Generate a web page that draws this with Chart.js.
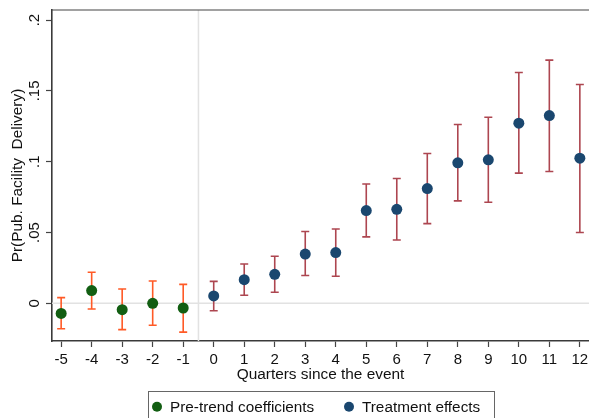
<!DOCTYPE html>
<html><head><meta charset="utf-8">
<script src="https://cdn.jsdelivr.net/npm/chart.js@4"></script>
<style>html,body{margin:0;padding:0;background:#fff}#wrap{width:589px;height:418px;position:relative}</style>
</head><body><div id="wrap"><canvas id="c"></canvas></div>
<script>
const preQuarters = [-5, -4, -3, -2, -1];
const preCoef = [-0.0071, 0.0090, -0.0045, 0.0000, -0.0033];
const preLow  = [-0.0179, -0.0040, -0.0186, -0.0155, -0.0203];
const preHigh = [0.0040, 0.0219, 0.0101, 0.0158, 0.0134];

const postQuarters = [0, 1, 2, 3, 4, 5, 6, 7, 8, 9, 10, 11, 12];
const postCoef = [0.0052, 0.0167, 0.0205, 0.0348, 0.0358, 0.0655, 0.0664, 0.0810, 0.0992, 0.1013, 0.1272, 0.1326, 0.1025];
const postLow  = [-0.0052, 0.0057, 0.0078, 0.0196, 0.0191, 0.0469, 0.0447, 0.0563, 0.0723, 0.0714, 0.0919, 0.0931, 0.0500];
const postHigh = [0.0155, 0.0278, 0.0332, 0.0507, 0.0525, 0.0843, 0.0881, 0.1058, 0.1263, 0.1314, 0.1630, 0.1717, 0.1545];

const xTicks = [-5, -4, -3, -2, -1, 0, 1, 2, 3, 4, 5, 6, 7, 8, 9, 10, 11, 12];
const yTicks = [0, 0.05, 0.1, 0.15, 0.2];
const yTickLabels = ['0', '.05', '.1', '.15', '.2'];
const seriesNames = ['Pre-trend coefficients', 'Treatment effects'];
const xTitle = 'Quarters since the event';
const yTitle = 'Pr(Pub. Facility  Delivery)';
const eventLine = -0.5;

const FONT = '"Liberation Sans", Arial, Helvetica, sans-serif';
const colGreen = '#125e12', colNavy = '#1a476f', colOrange = '#ff5a26', colMaroon = '#ad4650';

const errorBars = {
  id: 'errorBars',
  beforeDatasetsDraw(chart) {
    const {ctx, chartArea: a, scales: {x, y}} = chart;
    ctx.save();
    ctx.strokeStyle = '#e2e2e2';
    ctx.lineWidth = 1.5;
    ctx.beginPath();
    const y0 = y.getPixelForValue(0);
    ctx.moveTo(a.left, y0); ctx.lineTo(a.right, y0);
    const xe = x.getPixelForValue(eventLine);
    ctx.moveTo(xe, a.top); ctx.lineTo(xe, a.bottom);
    ctx.stroke();
    ctx.strokeStyle = '#444';
    ctx.lineWidth = 1.2;
    ctx.beginPath(); ctx.moveTo(a.left, a.top); ctx.lineTo(a.right, a.top); ctx.stroke();
    chart.data.datasets.forEach(ds => {
      ctx.strokeStyle = ds.errColor;
      ctx.lineWidth = 1.6;
      ds.data.forEach((p, i) => {
        const px = x.getPixelForValue(p.x);
        const lo = y.getPixelForValue(ds.errLow[i]);
        const hi = y.getPixelForValue(ds.errHigh[i]);
        ctx.beginPath();
        ctx.moveTo(px, lo); ctx.lineTo(px, hi);
        ctx.moveTo(px - 4, lo); ctx.lineTo(px + 4, lo);
        ctx.moveTo(px - 4, hi); ctx.lineTo(px + 4, hi);
        ctx.stroke();
      });
    });
    ctx.restore();
  },
  afterDraw(chart) {
    const {ctx, scales: {y}} = chart;
    ctx.save();
    ctx.fillStyle = '#111';
    ctx.font = '15px ' + FONT;
    ctx.textAlign = 'center';
    ctx.textBaseline = 'alphabetic';
    yTicks.forEach((v, i) => {
      const py = y.getPixelForValue(v);
      ctx.save();
      ctx.translate(39, py);
      ctx.rotate(-Math.PI / 2);
      ctx.fillText(yTickLabels[i], 0, 0);
      ctx.restore();
    });
    ctx.strokeStyle = '#666';
    ctx.lineWidth = 1;
    ctx.strokeRect(148.5, 391.5, 346, 40);
    ctx.font = '15.3px ' + FONT;
    const items = [[157, 170], [349, 362]];
    chart.data.datasets.forEach((ds, i) => {
      ctx.fillStyle = ds.pointBackgroundColor;
      ctx.beginPath(); ctx.arc(items[i][0], 406.7, 5, 0, Math.PI * 2); ctx.fill();
      ctx.fillStyle = '#111';
      ctx.textAlign = 'left';
      ctx.fillText(ds.label, items[i][1], 411.8);
    });
    ctx.restore();
  }
};

new Chart(document.getElementById('c'), {
  type: 'scatter',
  data: {
    datasets: [
      { label: seriesNames[0], data: preQuarters.map((q, i) => ({x: q, y: preCoef[i]})),
        errLow: preLow, errHigh: preHigh, errColor: colOrange,
        pointBackgroundColor: colGreen, backgroundColor: colGreen, pointRadius: 5.5, pointBorderWidth: 0, pointHoverRadius: 5.5 },
      { label: seriesNames[1], data: postQuarters.map((q, i) => ({x: q, y: postCoef[i]})),
        errLow: postLow, errHigh: postHigh, errColor: colMaroon,
        pointBackgroundColor: colNavy, backgroundColor: colNavy, pointRadius: 5.5, pointBorderWidth: 0, pointHoverRadius: 5.5 }
    ]
  },
  options: {
    responsive: true, maintainAspectRatio: false, animation: false,
    layout: { autoPadding: false, padding: { top: 10, right: 0, bottom: 34, left: 0 } },
    plugins: { legend: { display: false }, tooltip: { enabled: false } },
    scales: {
      x: {
        type: 'linear', min: -5.3, max: 12.3,
        afterBuildTicks: s => { s.ticks = xTicks.map(v => ({value: v})); },
        afterFit: s => { s.height = 43; s.paddingLeft = 0; s.paddingRight = 0; },
        grid: { drawOnChartArea: false, drawTicks: true, tickLength: 6, color: '#444', tickWidth: 1.2 },
        border: { display: true, color: '#3a3a3a', width: 1.6 },
        ticks: { color: '#111', font: { family: FONT, size: 15 }, padding: 4, maxRotation: 0, autoSkip: false },
        title: { display: true, text: xTitle, color: '#111', font: { family: FONT, size: 15.4 }, padding: { top: 0, bottom: 0 } }
      },
      y: {
        type: 'linear', min: -0.0266, max: 0.2071,
        afterBuildTicks: s => { s.ticks = yTicks.map(v => ({value: v})); },
        afterFit: s => { s.width = 52; s.paddingTop = 0; s.paddingBottom = 0; },
        grid: { drawOnChartArea: false, drawTicks: true, tickLength: 6, color: '#444', tickWidth: 1.2 },
        border: { display: true, color: '#3a3a3a', width: 1.6 },
        ticks: { display: false },
        title: { display: true, text: yTitle, color: '#111', font: { family: FONT, size: 15.4 }, padding: { top: 8.3, bottom: 0 } }
      }
    }
  },
  plugins: [errorBars]
});
</script>
</body></html>
